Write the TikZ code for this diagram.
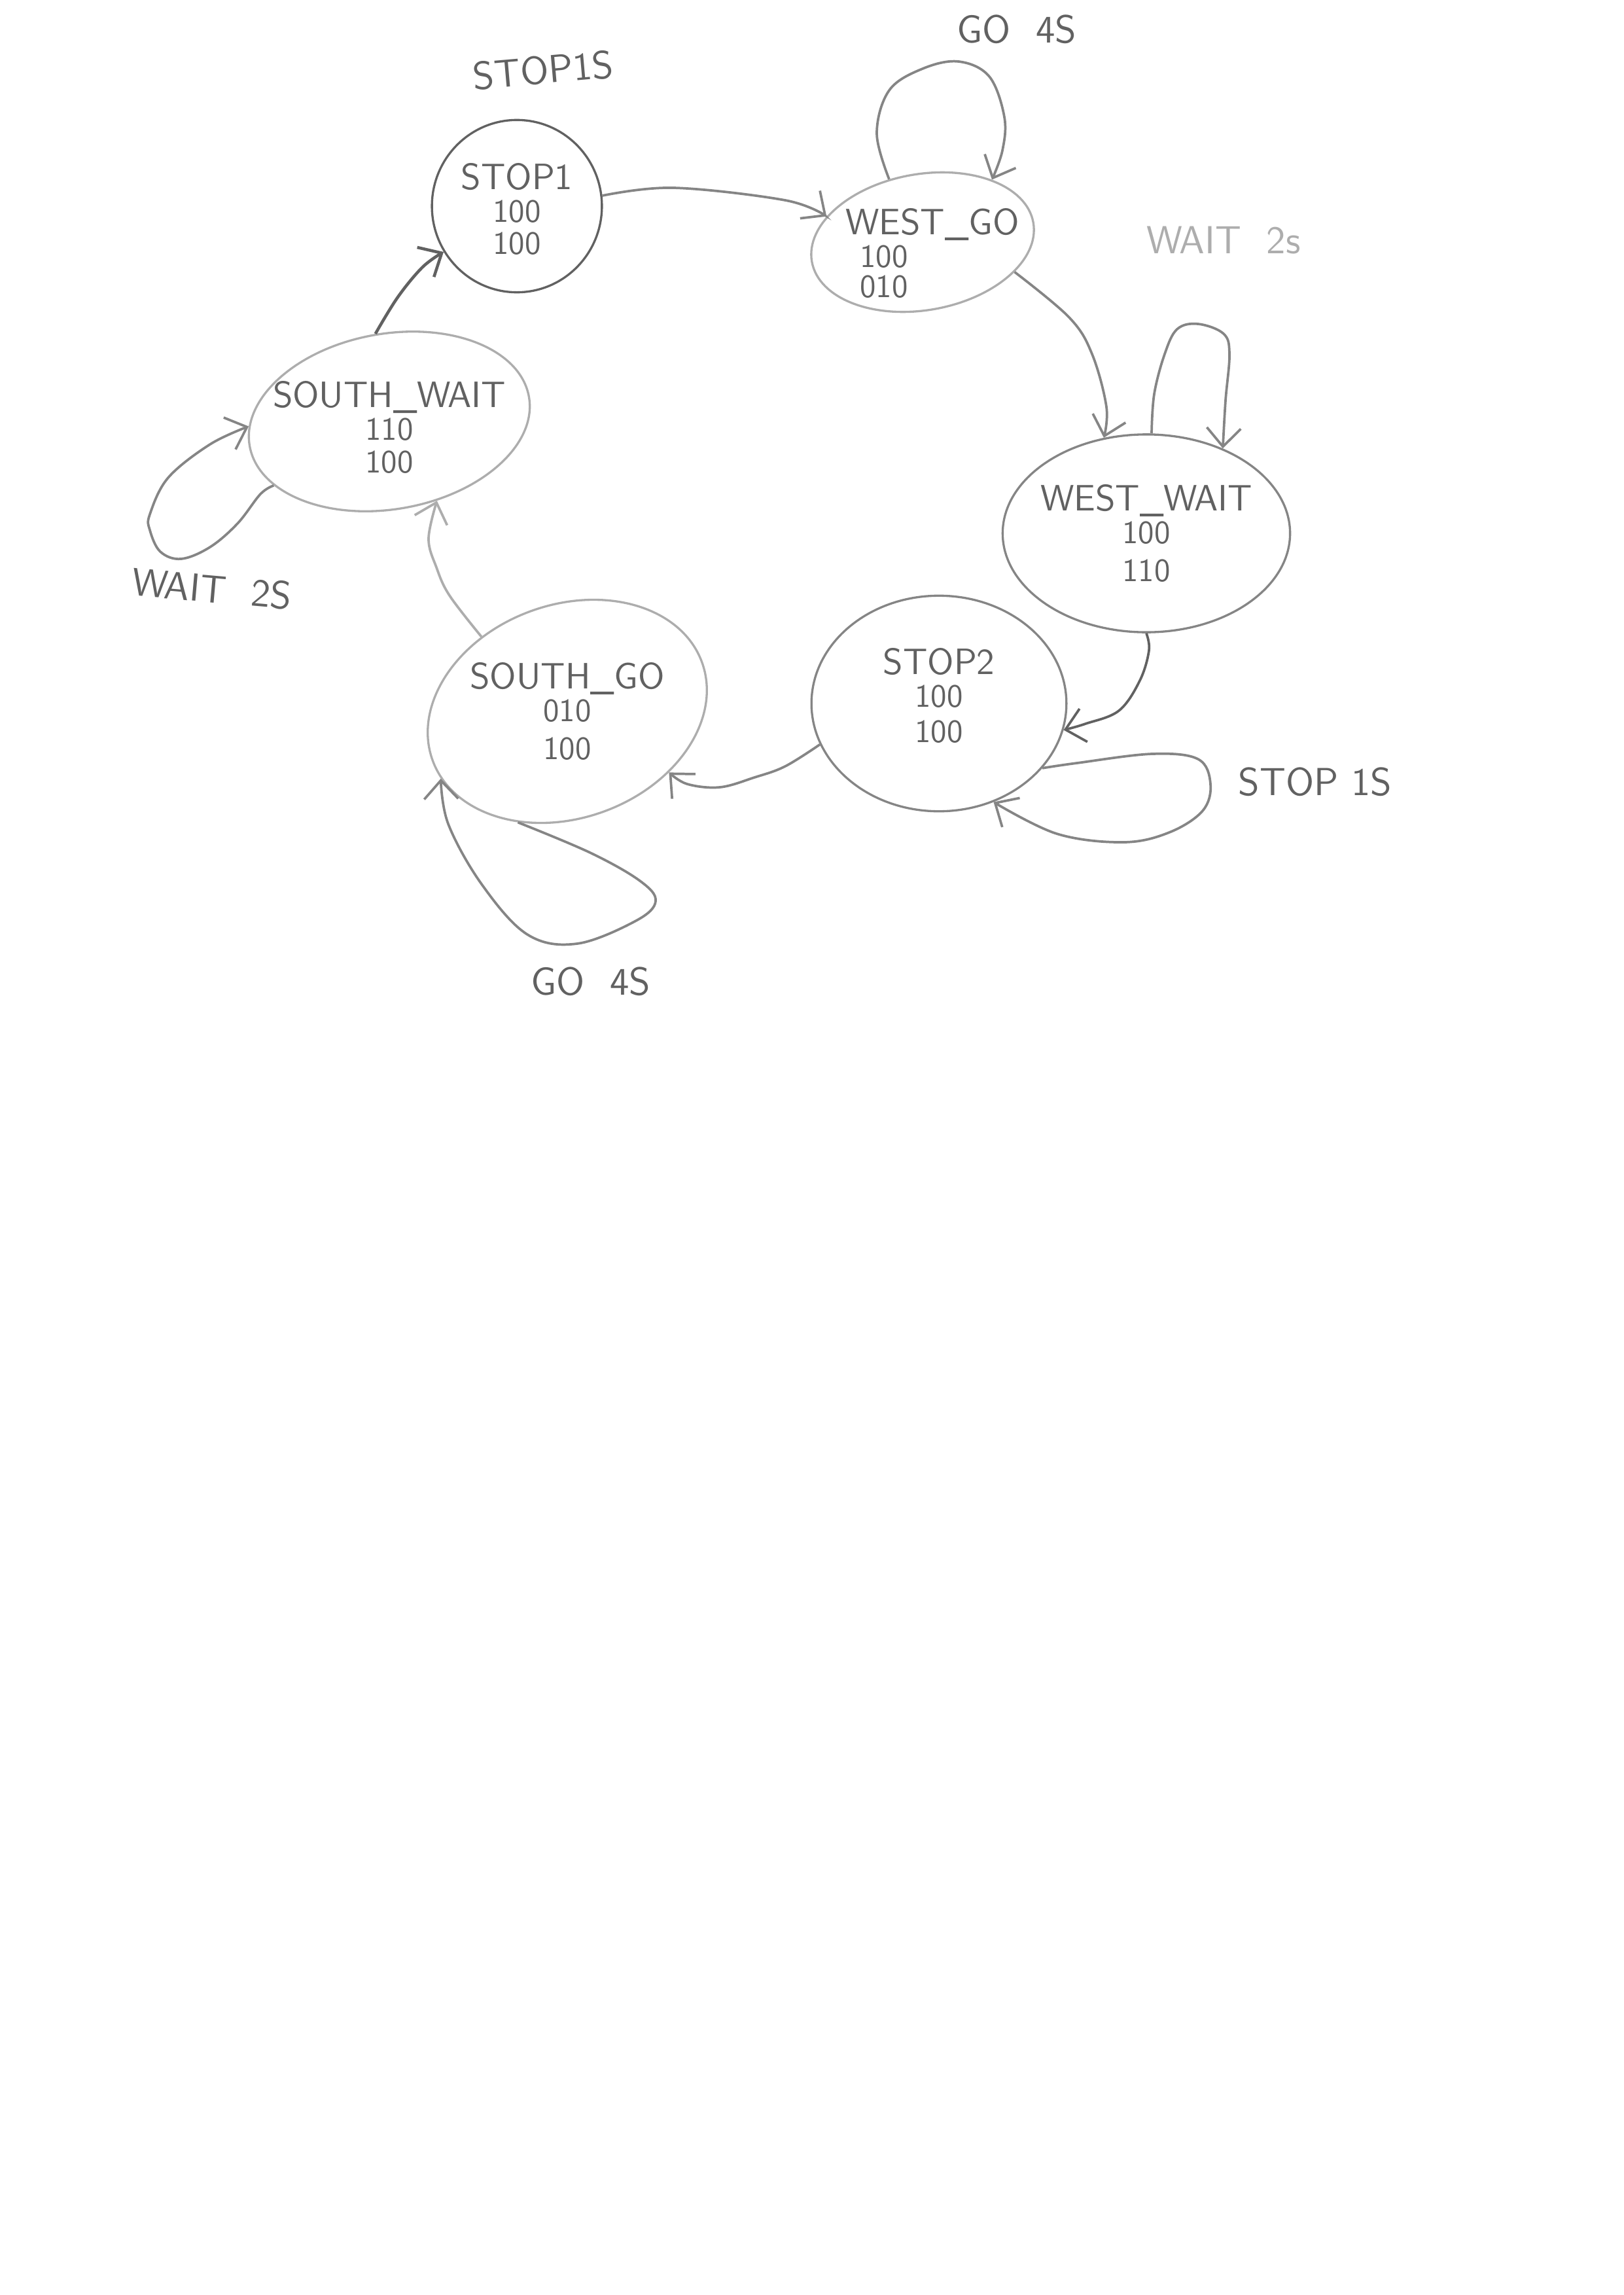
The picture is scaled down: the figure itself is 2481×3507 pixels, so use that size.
\documentclass[tikz,border=0pt]{standalone}
\usetikzlibrary{arrows.meta,shapes.geometric}
\definecolor{pencildark}{gray}{0.38}
\definecolor{pencil}{gray}{0.52}
\definecolor{pencillight}{gray}{0.68}
\tikzset{
    state/.style={ellipse,draw=pencil,line width=0.8pt,inner sep=0pt,text=pencildark,font=\sffamily\large},
    edgeline/.style={draw=pencil,line width=0.9pt,-{Straight Barb[length=2.4mm,width=4.4mm]}},
    looptext/.style={text=pencildark,font=\sffamily\Large},
}
\newcommand\stateText[3][0pt]{\smash{\raisebox{#1}{\makebox[0pt]{\begin{tabular}{@{}c@{}}{\fontsize{13.5}{16}\selectfont #2}\\[-2pt]#3\end{tabular}}}}}
\newcommand\sdraw[2][]{
        \draw[edgeline,#1] plot[smooth,tension=0.6] coordinates {#2};
}

\begin{document}
\begin{tikzpicture}[x=0.008465cm,y=-0.008465cm]
    \useasboundingbox (0,0) rectangle (2481,3507);

    %draws the states (the tilted ones turn their text back):
    \node (stopone) [state,draw=pencildark,minimum width=2.2cm,minimum height=2.23cm] at (790,315)
        {\stateText[-6pt]{STOP1}{100\\[-2pt]100}};
    \node (westgo) [state,draw=pencillight,rotate=10,minimum width=2.91cm,minimum height=1.76cm] at (1410,370)
        {\rotatebox{-10}{\stateText[-9pt]{\hspace*{0.25cm}WEST\_GO}{\hspace*{-1cm}100\\[-3pt]\hspace*{-1cm}010}}};
    \node (westwait) [state,minimum width=3.72cm,minimum height=2.56cm] at (1752,815)
        {\stateText[-5pt]{WEST\_WAIT}{100\\110}};
    \node (stoptwo) [state,minimum width=3.3cm,minimum height=2.79cm] at (1435,1075)
        {\stateText[-2pt]{STOP2}{100\\[-1pt]100}};
    \node (southgo) [state,draw=pencillight,rotate=20,minimum width=3.71cm,minimum height=2.76cm] at (867,1087)
        {\rotatebox{-20}{\stateText[-5pt]{SOUTH\_GO}{010\\100}}};
    \node (southwait) [state,draw=pencillight,rotate=10,minimum width=3.67cm,minimum height=2.27cm] at (595,644)
        {\rotatebox{-10}{\stateText[-7pt]{SOUTH\_WAIT}{110\\[-2pt]100}}};

    %draws the ring of transitions:
    \sdraw{(stopone.7) (1029,287) (1200,306) (westgo.155)}
    \sdraw{(westgo.-28) (1634,485) (1669,541) (1691,622) (westwait.114)}
    \sdraw[draw=pencildark]{(westwait.-90) (1756,994) (1742,1040) (1710,1086) (1659,1106) (stoptwo.-12)}
    \sdraw{(stoptwo.199) (1200,1171) (1153,1188) (1100,1203) (1050,1198) (southgo.-51)}
    \sdraw[draw=pencillight]{(southgo.119) (687,910) (667,867) (655,823) (southwait.-69)}
    \sdraw[draw=pencildark,line width=1.1pt]{(southwait.89) (608,454) (646,408) (stopone.212)}

    %draws the self loops:
    \sdraw{(westgo.108) (1340,204) (1359,138) (1410,105) (1465,94) (1512,117) (1535,179) (1532,230) (westgo.32)}
    \sdraw{(westwait.87) (1764,602) (1780,541) (1799,503) (1831,495) (1870,510) (1879,541) (1873,612) (westwait.48)}
    \sdraw{(stoptwo.-32) (1646,1166) (1761,1152) (1831,1160) (1850,1198) (1838,1239) (1787,1272) (1717,1287) (1615,1274) (stoptwo.-61)}
    \sdraw{(southgo.-134) (902,1303) (978,1346) (1002,1377) (972,1407) (882,1442) (806,1428) (736,1351) (685,1259) (southgo.188)}
    \sdraw{(southwait.199) (398,755) (363,800) (321,836) (277,854) (245,843) (229,810) (229,786) (257,730) (321,679) (southwait.172)}

    %loop labels:
    \node (stoponetime) [looptext,rotate=5] at (830,107) {STOP1S};
    \node (westgotime) [looptext] at (1554,45) {GO\ \ 4S};
    \node (westwaittime) [looptext,text=pencillight] at (1870,367) {WAIT\ \ 2s};
    \node (stoptwotime) [looptext] at (2010,1195) {STOP 1S};
    \node (southgotime) [looptext] at (903,1500) {GO\ \ 4S};
    \node (southwaittime) [looptext,rotate=-5] at (324,900) {WAIT\ \ 2S};

\end{tikzpicture}
\end{document}
